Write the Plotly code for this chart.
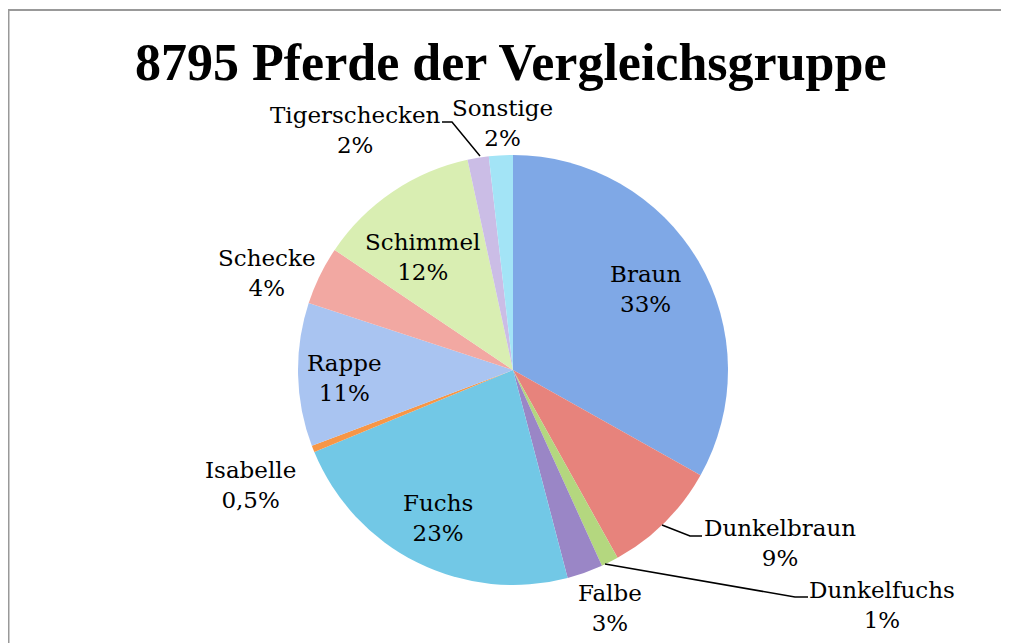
import plotly.graph_objects as go

# data
labels = ["Braun", "Dunkelbraun", "Dunkelfuchs", "Falbe", "Fuchs", "Isabelle",
          "Rappe", "Schecke", "Schimmel", "Tigerschecken", "Sonstige"]
shares = [33.2, 8.8, 1.3, 2.7, 22.9, 0.5, 10.8, 4.4, 12.2, 1.6, 1.8]
pct_text = ["33%", "9%", "1%", "3%", "23%", "0,5%", "11%", "4%", "12%", "2%", "2%"]
colors = ["#7fa8e6", "#e7837c", "#b4d77f", "#9a86c6", "#72c8e6", "#f79646",
          "#a9c4f1", "#f2a8a2", "#d9eeb2", "#cbbde6", "#a3e4f6"]

W, H = 1009, 643
OFF = 8  # page body margin

def px(x):
    return (x - OFF) / W

def py(y):
    return 1 - (y - OFF) / H

# label block centres in pixels (layout only)
label_pos = {
    "Braun": (645, 289), "Dunkelbraun": (780, 543), "Dunkelfuchs": (882, 605),
    "Falbe": (610, 608), "Fuchs": (438, 518), "Isabelle": (250, 485),
    "Rappe": (344, 378), "Schecke": (267, 273), "Schimmel": (422, 257),
    "Tigerschecken": (355, 130), "Sonstige": (502, 123),
}

# pie centre and radius in pixels
cx, cy, r = 513, 370, 215

fig = go.Figure(go.Pie(
    labels=labels, values=shares, sort=False, direction="clockwise", rotation=0,
    marker=dict(colors=colors, line=dict(width=0)),
    textinfo="none", hoverinfo="label+percent", showlegend=False,
    domain=dict(x=[px(cx - r), px(cx + r)], y=[py(cy + r), py(cy - r)]),
))

for lab, pct in zip(labels, pct_text):
    x, y = label_pos[lab]
    fig.add_annotation(x=px(x), y=py(y), xref="paper", yref="paper",
                       text=lab + "<br>" + pct, showarrow=False,
                       font=dict(family="DejaVu Serif", size=23, color="#000"),
                       xanchor="center", yanchor="middle")

fig.add_annotation(x=px(511), y=py(62), xref="paper", yref="paper",
                   text="<b>8795 Pferde der Vergleichsgruppe</b>", showarrow=False,
                   font=dict(family="Liberation Serif", size=52, color="#000"),
                   xanchor="center", yanchor="middle")

# leader lines
leaders = [
    [(442, 122), (452, 122), (480, 156)],
    [(662, 525), (690, 536), (702, 536)],
    [(605, 564), (795, 597), (808, 597)],
]
for pts in leaders:
    path = "M " + " L ".join(f"{px(a)},{py(b)}" for a, b in pts)
    fig.add_shape(type="path", path=path, xref="paper", yref="paper",
                  line=dict(color="#000", width=1.5))

# chart frame
fig.add_shape(type="rect", xref="paper", yref="paper",
              x0=px(8.5), x1=px(1030), y0=py(700), y1=py(10),
              line=dict(color="#999999", width=2))

fig.update_layout(width=W, height=H, margin=dict(l=0, r=0, t=0, b=0),
                  paper_bgcolor="white", plot_bgcolor="white")

fig.write_html("out.html")
